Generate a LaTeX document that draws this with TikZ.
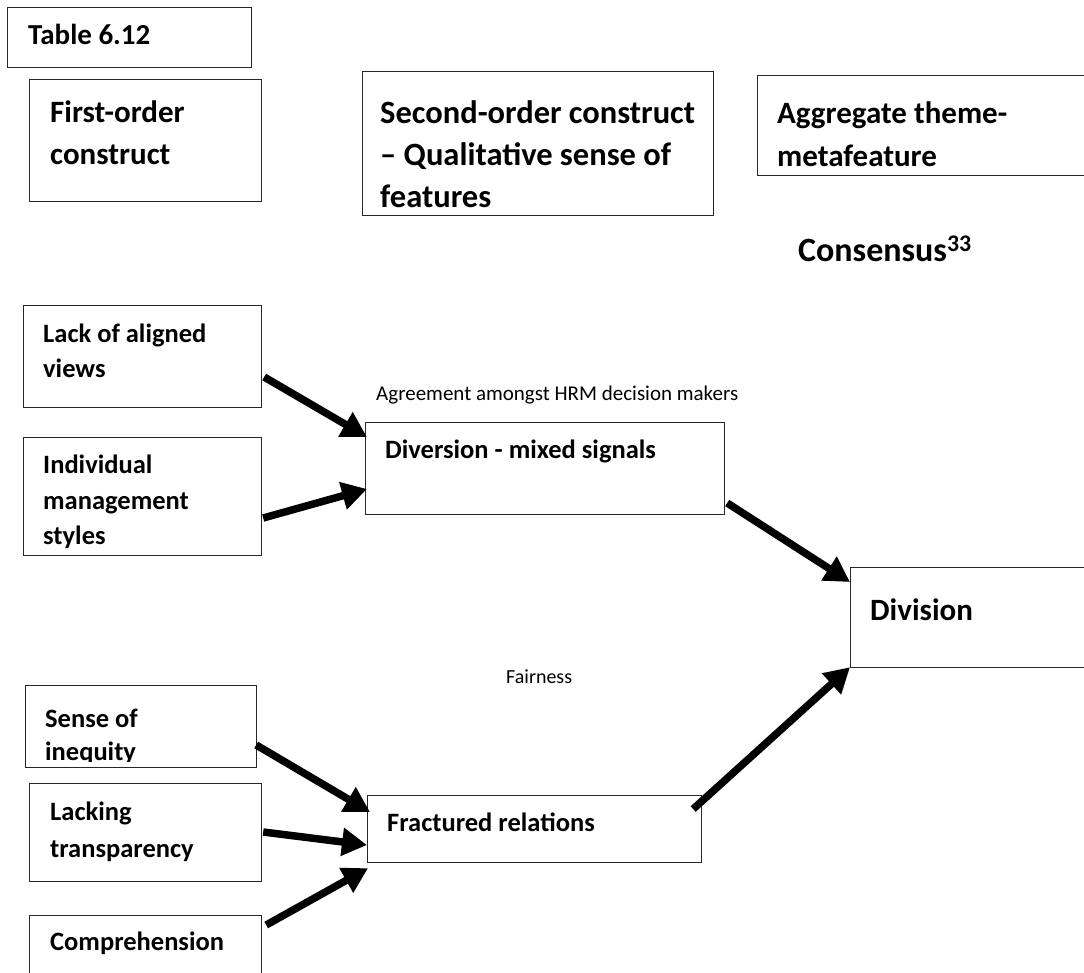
\documentclass[tikz,border=0pt]{standalone}
\usepackage{fontspec}
\setmainfont{Carlito}
\usetikzlibrary{arrows.meta,calc}
\begin{document}
\begin{tikzpicture}[x=1pt,y=-1pt,
  frame/.style={draw=black!85, line width=1.2pt, inner sep=0pt, anchor=north west},
  head/.style={anchor=base west, inner sep=0pt, font=\bfseries\fontsize{31}{42}\selectfont},
  item/.style={anchor=base west, inner sep=0pt, font=\bfseries\fontsize{26.5}{35}\selectfont},
  note/.style={anchor=base west, inner sep=0pt, font=\fontsize{21}{26}\selectfont},
  link/.style={line width=7.5pt, -{Triangle[length=25pt,width=27pt]}}]

\useasboundingbox (0,0) rectangle (1084,972);
\clip (0,0) rectangle (1084,972);

% column headings
\node[frame, minimum width=244pt, minimum height=60pt]  (table)  at (7,7) {};
\node[frame, minimum width=232pt, minimum height=122pt] (first)  at (29,79) {};
\node[frame, minimum width=351pt, minimum height=144pt] (second) at (362,71) {};
\node[frame, minimum width=360pt, minimum height=100pt] (aggr)   at (757,75) {};

\node[anchor=base west, inner sep=0pt, font=\bfseries\fontsize{29}{35}\selectfont] (tableT) at (28,44) {Table 6.12};
\node[head] (firstA) at (50,122) {First-order};
\node[head] (firstB) at (50,164) {construct};
\node[head, font=\bfseries\fontsize{32.5}{42}\selectfont] (secondA) at (380,123) {Second-order construct};
\node[head, font=\bfseries\fontsize{32.5}{42}\selectfont] (secondB) at (380,165) {– Qualitative sense of};
\node[head, font=\bfseries\fontsize{32.5}{42}\selectfont] (secondC) at (380,207) {features};
\node[head] (aggrA) at (777,123) {Aggregate theme-};
\node[head] (aggrB) at (777,166) {metafeature};
\node[anchor=base west, inner sep=0pt, font=\bfseries\fontsize{34}{40}\selectfont] (consensus) at (798,261) {Consensus\textsuperscript{33}};

% first-order constructs
\node[frame, minimum width=238pt, minimum height=102pt] (lack)    at (23,305) {};
\node[frame, minimum width=238pt, minimum height=118pt] (indiv)   at (23,437) {};
\node[frame, minimum width=231pt, minimum height=82pt]  (sense)   at (25,685) {};
\node[frame, minimum width=232pt, minimum height=98pt]  (lacking) at (29,783) {};
\node[frame, minimum width=232pt, minimum height=90pt]  (comp)    at (29,915) {};

\node[item] (lackA) at (43,342) {Lack of aligned};
\node[item] (lackB) at (43,377) {views};
\node[item] (indivA) at (43,473) {Individual};
\node[item] (indivB) at (43,509) {management};
\node[item] (indivC) at (43,544) {styles};
\begin{scope}
  \clip (25,685) rectangle (256,761);
  \node[item] (senseA) at (45,727) {Sense of};
  \node[item] (senseB) at (45,760) {inequity};
\end{scope}
\node[item] (lackingA) at (50,820) {Lacking};
\node[item] (lackingB) at (50,857) {transparency};
\node[item] (compA) at (50,950) {Comprehension};

% second-order constructs
\node[frame, minimum width=359pt, minimum height=92pt] (diver) at (365,422) {};
\node[frame, minimum width=334pt, minimum height=67pt] (fract) at (367,795) {};
\node[item] (diverT) at (385,458) {Diversion - mixed signals};
\node[item] (fractT) at (387,831) {Fractured relations};
\node[note] (agree) at (376,400) {Agreement amongst HRM decision makers};
\node[note, font=\fontsize{20}{26}\selectfont] (fair) at (506,683) {Fairness};

% aggregate theme
\node[frame, minimum width=260pt, minimum height=100pt] (division) at (850,567) {};
\node[head] (divisionT) at (870,620) {Division};

% connectors
\draw[link] ([shift={(2,72)}]lack.north east)    -- ([shift={(2,15)}]diver.north west);
\draw[link] ([shift={(1,81)}]indiv.north east)   -- ([shift={(2,67)}]diver.north west);
\draw[link] ([shift={(2,81)}]diver.north east)   -- ([shift={(0,15)}]division.north west);
\draw[link] ([shift={(-9,14)}]fract.north east)  -- ([shift={(0,-1)}]division.south west);
\draw[link] ([shift={(-1,60)}]sense.north east)  -- ([shift={(3,17)}]fract.north west);
\draw[link] ([shift={(1,49)}]lacking.north east) -- ([shift={(0,50)}]fract.north west);
\draw[link] ([shift={(4,10)}]comp.north east)    -- ([shift={(1,5)}]fract.south west);
\end{tikzpicture}
\end{document}
